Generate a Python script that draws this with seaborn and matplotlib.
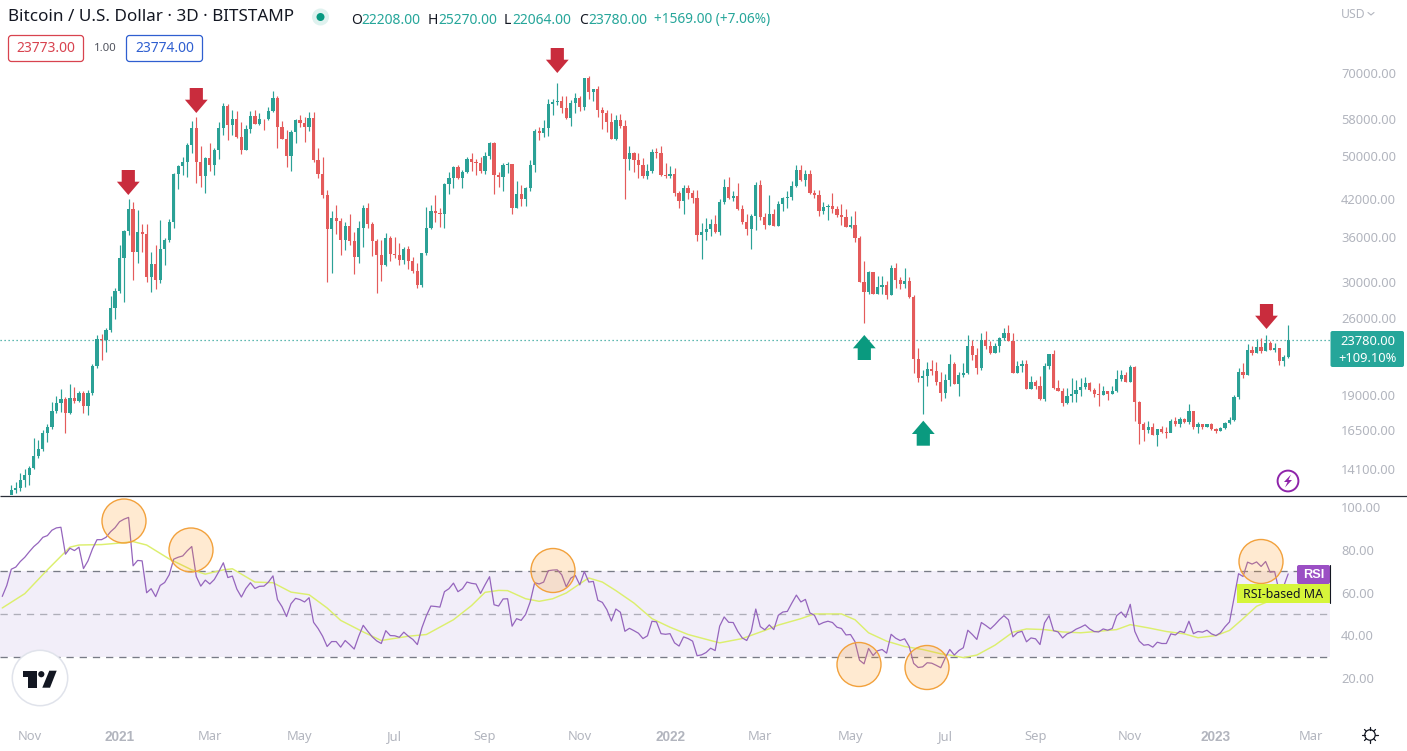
import numpy as np
import pandas as pd
import matplotlib
matplotlib.use("Agg")
import matplotlib.pyplot as plt
from matplotlib.patches import Circle, Polygon, Rectangle, FancyBboxPatch
from matplotlib.ticker import NullLocator
import seaborn as sns

FIRST_OPEN = 12670
close = [12930,13030,13460,13740,14130,14830,15260,16300,16690,17810,18400,18700,17670,18770,18550,19150,18170,19150,21370,23830,
23740,24720,27020,28950,33080,36910,40350,33910,36770,36480,30630,32300,30270,34320,35590,38290,46500,48000,48820,52300,
56030,48820,46120,49600,48220,51250,56030,61240,56700,58100,54000,51250,55800,58800,56950,58100,58000,60010,63260,56250,
53580,50000,55130,57870,57180,56250,58330,49210,46500,42700,37210,38900,38440,35590,37670,35450,33210,37370,40510,37980,
35450,33480,32160,35870,33630,33480,32820,34320,32690,31400,29660,33770,37370,40030,39710,39550,44660,45740,47830,45740,
46880,49410,48820,48620,47070,50040,52720,46310,45930,48220,48420,40510,42880,42020,43930,48220,55350,54910,56030,61750,
62240,62500,60750,58330,62000,63260,61000,68590,64820,65600,60260,59540,57410,53580,57870,56480,49410,50620,49210,48220,
46120,47070,50840,50620,46310,46120,46500,43060,41680,43930,43060,42190,36320,36770,37210,37980,36770,41520,44110,42190,
42530,40350,38290,37210,39230,44480,39070,37820,39550,37670,41180,42190,42360,44290,47260,45380,46500,43060,42700,40030,
40680,40850,40350,39390,39070,37520,37820,35870,30030,28840,31270,28600,29420,29660,28490,31770,30270,29790,30150,28250,
21980,20350,20510,21100,20940,20030,19150,20190,21540,19870,20600,20770,23180,22350,21190,23740,23180,22530,23180,23930,
24420,23640,20770,21370,21540,19470,20030,19710,18700,21370,22440,19550,19310,18400,18940,19080,19390,19630,19950,19390,
19080,19000,19310,19080,19310,20270,20600,20030,21280,18470,16900,16490,16690,16160,16550,16360,16300,17100,16900,17240,
17030,17810,16690,16900,16690,16900,16550,16430,16620,16970,17170,18840,20850,20600,22800,22530,23090,22710,23460,22800,
22980,21800,22170,23780]

high = [13190,13350,13850,14080,14250,15960,15830,16490,16900,18470,18940,19470,18840,19870,19630,19310,19310,19390,21540,24220,
24320,24920,28350,29300,34870,37060,42020,41520,40190,37980,37980,33910,34870,38600,35870,38750,46690,48220,49800,52720,
57640,58560,52060,49800,52720,51670,57410,61990,61750,60260,60010,57410,56700,60010,60260,59540,58100,61000,65080,63770,
57640,55570,55570,58100,59060,58560,59770,59770,51670,49800,43580,40030,41020,38900,38290,39550,36770,38440,41020,41350,
38290,35730,35590,36620,36180,36030,35170,34600,34740,33210,32430,33770,40680,41020,42700,40510,44850,46880,48000,48220,
47260,49800,50620,49410,49800,50840,52940,52940,46880,48620,48820,48420,45200,44480,44110,49210,55800,56250,57870,63000,
63000,67360,63770,63770,62750,64560,63770,68040,69150,65600,66420,61000,60260,59540,59060,59300,57870,52060,50840,50620,
49600,48420,51450,51670,52060,48620,48000,47640,43410,44480,44480,43580,43580,38140,38900,38750,39390,42020,45560,45930,
43410,44850,41020,39550,39550,45020,45380,39710,42700,40350,41680,42360,43410,45200,48220,48220,47260,47260,43580,43580,
41520,41180,43060,40850,41180,40350,39230,40030,36180,32690,31400,31270,30760,30760,30150,32160,32430,30630,31770,30630,
28490,22980,21020,21720,21890,21720,20850,20680,22440,21720,20850,21630,24220,23740,22980,24420,24620,23640,23460,24030,
24920,25240,24420,21800,21890,21890,20510,20190,20510,21630,22440,22800,20190,19550,19550,20350,20190,20350,20430,20030,
19550,19950,19710,19310,19710,21020,21020,20850,21450,21370,18550,17030,17100,16970,16550,16760,16690,17240,17380,17380,
17310,18330,17810,17030,16900,16900,16970,16620,16690,17030,17380,19000,21190,21630,23370,23180,23830,23930,24220,23640,
23460,22980,22350,25270]

low = [12420,12770,12880,13090,13190,14080,14720,15140,15700,16550,17670,17740,16300,17600,18400,18470,17670,17530,19000,21190,
21890,22620,24520,25840,28720,27690,36320,30270,32430,33910,30030,28840,29190,29910,32160,35300,37370,43750,46310,45930,
50620,44850,44110,43060,47070,46310,49410,54470,53370,54470,53790,50420,51250,54910,56950,56700,55570,57870,59770,51670,
53580,47830,47070,52720,56250,52940,55350,48820,45740,42190,30030,31140,36480,33480,34180,34870,31010,32430,34600,37370,
33350,28720,30150,32000,32690,33080,32160,32300,31650,31140,29300,29420,33480,37210,38290,37520,37370,42880,43930,45560,
43930,46690,47070,46310,46690,46500,49410,42880,44110,43410,46690,39550,40510,40850,40850,43410,46880,53370,54000,54240,
59060,61500,59540,58100,56480,59540,60010,60260,63000,62500,58560,55800,55130,53580,53370,56030,42020,47260,46880,45740,
45740,45560,46690,49600,46120,45740,45740,42530,40510,39550,42020,41350,35450,32950,35590,36180,36620,36320,41180,42020,
41680,40190,37980,36320,34320,37060,38600,37210,37820,37670,37670,40030,40510,41850,44110,45200,44290,42880,42190,39230,
39550,38600,39710,39070,37820,37520,37370,35300,30030,25440,28600,28600,28600,28600,28020,28490,29300,29190,29300,28140,
20770,20030,17600,19710,20600,19790,18550,18770,19710,19870,18940,20430,20680,21890,20680,21020,22890,22440,22530,22620,
23740,23640,20770,20770,20850,19470,19470,19470,18620,18550,21100,19470,19310,18170,18330,18470,18470,18940,19470,19310,
18840,18170,19000,18620,19080,19230,20110,20030,20030,17100,15580,15770,16300,16160,15450,16300,15960,16360,16760,16690,
16970,16900,16550,16300,16550,16690,16490,16300,16430,16550,16900,17100,18700,20350,20600,22350,22530,22530,22710,22800,
22620,21450,21370,22064]

# RSI values: the first two belong to bars left of the first visible candle
rsi = [58.2,63.3,70.9,71.9,74.5,76.5,79.1,81.5,83.3,85.8,86.6,89.1,90.2,90.5,77.9,80.7,79.6,81.2,71.2,74.8,
80.4,84.7,84.7,85.8,88.4,90.3,93.1,94.3,95.1,72.5,75.0,74.8,59.9,61.8,58.1,63.3,64.7,68.3,75.6,76.5,
77.1,79.5,81.5,67.5,63.0,65.8,64.0,66.1,69.8,73.9,67.0,67.7,61.6,57.9,61.9,64.6,61.9,62.9,63.0,64.9,
67.8,56.7,53.4,48.8,54.8,57.3,56.7,55.6,57.6,46.1,43.2,39.6,34.8,37.1,37.1,34.5,37.6,35.7,33.6,39.6,
44.7,41.9,39.3,37.4,36.2,42.2,39.9,39.8,39.1,41.5,39.6,38.1,35.7,43.5,49.2,53.7,53.5,53.2,60.4,61.8,
64.4,60.4,61.8,64.9,64.3,64.0,59.6,63.6,67.4,54.3,53.7,57.0,57.1,44.3,47.8,47.0,49.8,55.6,64.6,64.0,
64.9,70.2,70.5,70.6,68.3,62.7,66.7,68.0,63.6,69.8,64.9,65.2,56.4,55.4,52.0,46.7,52.3,50.8,41.9,43.3,
42.2,41.0,38.5,39.8,46.6,46.3,40.8,40.5,40.8,36.5,35.0,39.3,38.5,37.3,30.5,30.9,32.0,34.0,32.9,44.3,
48.6,46.1,46.0,41.9,38.8,37.6,41.9,52.3,44.1,42.6,44.9,42.7,49.4,50.9,51.2,55.1,58.8,55.6,56.8,50.5,
49.4,45.0,46.0,46.6,46.0,43.8,43.2,40.2,40.4,37.0,28.4,26.7,33.9,30.6,32.8,33.4,31.7,40.5,38.7,37.6,
38.4,34.8,26.9,25.0,25.3,27.2,27.0,26.0,24.9,29.5,33.4,30.8,32.9,34.2,42.4,40.4,38.1,46.0,44.6,43.0,
45.0,47.3,49.2,47.3,39.3,41.3,41.9,37.0,38.8,38.4,35.7,45.8,49.2,42.2,41.6,38.8,40.7,41.5,42.9,43.8,
44.9,43.0,41.8,41.6,43.0,42.4,43.2,49.2,50.9,48.4,54.5,41.9,37.3,35.4,35.7,34.5,36.8,36.2,36.2,40.7,
40.2,41.9,41.3,46.6,40.8,41.8,41.5,42.4,40.7,39.9,41.2,44.0,46.3,57.4,68.8,67.5,74.2,73.3,74.3,72.2,
74.5,69.5,69.8,60.5,62.9,68.7]

# RSI-based MA, read at selected bars (bar number counted along rsi above)
ma_bar = [0,5,10,15,17,22,27,29,32,37,42,45,49,51,56,60,64,68,72,75,80,84,90,94,100,104,107,110,112,116,119,122,125,129,130,133,136,
140,144,148,152,157,159,164,169,172,177,180,183,186,189,192,196,200,204,208,210,213,216,220,224,227,231,235,239,243,247,250,254,
258,262,265,269,272,275,278,281,285]
ma_val = [52.8,59.5,70.6,81.2,82.2,82.4,83.3,83.8,82.2,75.7,70.6,68.6,70.6,71.1,64.9,64.6,60.2,59.0,52.8,47.0,41.6,37.6,39.6,40.4,47.3,53.9,60.1,61.0,60.9,57.1,55.9,57.1,59.8,65.5,66.8,64.9,60.9,
55.1,47.8,43.8,40.4,37.6,36.5,38.5,42.3,44.8,47.8,50.0,50.0,50.0,47.3,41.2,37.3,34.8,33.4,31.4,30.8,29.6,30.8,35.4,41.5,43.0,42.7,41.6,41.2,41.9,42.7,45.0,43.5,
41.8,40.7,38.9,39.9,42.3,47.8,53.6,56.2,59.6]

price_ticks = [70000,58000,50000,42000,36000,30000,26000,19000,16500,14100]
rsi_ticks = [100,80,60,40,20]
month_labels = ["Nov","2021","Mar","May","Jul","Sep","Nov","2022","Mar","May","Jul","Sep","Nov","2023","Mar"]
month_bars = [6,26,46,66,87,107,128,148,168,188,209,229,250,269,290]

FONT = "Noto Sans"
BOLD = "Liberation Sans"
GREEN, RED = "#2ba196", "#e45b5b"
TICKC = "#b2b5be"
sns.set_theme(style="white")
plt.rcParams["font.family"] = [FONT, "DejaVu Sans"]

W, H = 1407, 751
fig = plt.figure(figsize=(W/100, H/100), dpi=100, facecolor="white")
AX_R = 1330
ax = fig.add_axes([0, 1-495/H, AX_R/W, 495/H])
ax2 = fig.add_axes([0, 1-722/H, AX_R/W, (722-496)/H])

dates = pd.date_range("2020-10-14", periods=len(rsi), freq="3D")
cdates = dates[2:]
c = np.array(close, float)
o = np.r_[FIRST_OPEN, c[:-1]]
h, l = np.array(high, float), np.array(low, float)
up = c >= o
cols = np.where(up, GREEN, RED)

ax.vlines(cdates, l, h, colors=cols, linewidth=0.85, zorder=2)
body_bottom = np.minimum(o, c)
body_h = np.maximum(np.abs(c-o), body_bottom*0.004)
ax.bar(cdates, body_h, bottom=body_bottom, width=2.15, color=cols, linewidth=0, zorder=3)
ax.set_yscale("log")
# price axis spans from y px 0 to 495
ax.set_ylim(12680, 94090)
x0 = dates[0] - pd.Timedelta(days=1.5)
x1 = dates[0] + pd.Timedelta(days=(AX_R-0)/1.504-1.5)
ax.set_xlim(x0, x1)
ax.axhline(close[-1], color=GREEN, lw=0.9, dashes=(1, 2.2), zorder=1)
ax.set_yticks(price_ticks)
ax.set_yticklabels([f"{t:.2f}" for t in price_ticks])
ax.yaxis.set_minor_locator(NullLocator())
ax.set_xticks([])

# RSI panel
ax2.axhspan(30, 70, color="#f2eef9", lw=0, zorder=0)
for lv, al in [(70, 1), (50, .55), (30, 1)]:
    ax2.axhline(lv, color="#787b86", lw=0.95, dashes=(5.5, 4.5), alpha=al, zorder=1)
df_rsi = pd.DataFrame({"date": dates, "rsi": rsi})
df_ma = pd.DataFrame({"date": dates[ma_bar], "ma": ma_val})
sns.lineplot(data=df_ma, x="date", y="ma", color="#dcef6e", lw=1.05, ax=ax2, estimator=None, zorder=2)
sns.lineplot(data=df_rsi, x="date", y="rsi", color="#9565bd", lw=0.9, ax=ax2, estimator=None, zorder=3)
ax2.set_xlim(x0, x1)
ax2.set_ylim(-0.47, 105.1)
ax2.set_xlabel(""); ax2.set_ylabel("")
ax2.set_yticks(rsi_ticks)
ax2.set_yticklabels([f"{t:.2f}" for t in rsi_ticks])
ax2.set_xticks(dates[0] + pd.to_timedelta(np.array(month_bars)*3, unit="D"))
ax2.set_xticklabels(month_labels)

for a in (ax, ax2):
    a.set_facecolor("none")
    for s in a.spines.values():
        s.set_visible(False)
    a.yaxis.tick_right()
    a.tick_params(axis="y", length=0, pad=7.9, labelsize=9.3, labelcolor=TICKC)
    a.tick_params(axis="x", length=0, pad=6, labelsize=9.3, labelcolor=TICKC)
    for t in a.get_yticklabels():
        t.set_ha("left")
for t, s in zip(ax2.get_xticklabels(), month_labels):
    if s.startswith("20"):
        t.set_fontfamily(BOLD)
        t.set_fontweight("bold")
        t.set_fontsize(9.8)

# overlay in pixel units for the chart furniture
ov = fig.add_axes([0, 0, 1, 1], zorder=5)
ov.set_xlim(0, W); ov.set_ylim(H, 0)
ov.axis("off")
ov.patch.set_alpha(0)

ov.plot([0, W], [495.5, 495.5], color="#2a2e39", lw=0.9, solid_capstyle="butt")

def arrow(xc, top, down, color):
    sw, hw, total, shaft = 6.6, 11.4, 25, 11.7
    if down:
        pts = [(-sw,0),(sw,0),(sw,shaft),(hw,shaft),(0,total),(-hw,shaft),(-sw,shaft)]
    else:
        pts = [(-sw,total),(sw,total),(sw,total-shaft),(hw,total-shaft),(0,0),(-hw,total-shaft),(-sw,total-shaft)]
    ov.add_patch(Polygon([(xc+p, top+q) for p, q in pts], closed=True, color=color, lw=0))

for xc, top in [(128.3,170),(196.3,88),(557.3,48),(1266.5,304)]:
    arrow(xc, top, True, "#c92c3d")
for xc, top in [(864.3,335),(923.3,420.7)]:
    arrow(xc, top, False, "#0a9a7f")

for xc, yc in [(124,521),(191,550),(553,570.5),(859,664.5),(927,667.5),(1261,561.5)]:
    ov.add_patch(Circle((xc, yc), 22, facecolor=(1, 0.6, 0.1, 0.2), edgecolor="#f2a13c", lw=1.0))

# labels on the right edge
ov.add_patch(FancyBboxPatch((1297,565), 33, 19, boxstyle="round,pad=0,rounding_size=2", facecolor="#9b4fc4", lw=0))
ov.text(1313.5, 574.5, "RSI", color="white", fontsize=9.2, ha="center", va="center", fontweight="bold", family=BOLD)
ov.add_patch(Rectangle((1237,584), 92.5, 19, facecolor="#d6f53a", lw=0))
ov.text(1283, 594, "RSI-based MA", color="#131722", fontsize=8.9, ha="center", va="center")
ov.plot([1329.7,1329.7],[565,603], color="#131722", lw=0.8)
ov.add_patch(FancyBboxPatch((1330.5,331), 73.5, 36, boxstyle="round,pad=0,rounding_size=2", facecolor="#26a69a", lw=0))
ov.text(1367.5, 341.5, "23780.00", color="white", fontsize=9.3, ha="center", va="center")
ov.text(1367.5, 358, "+109.10%", color="white", fontsize=9.3, ha="center", va="center")
ov.text(1341, 14, "USD", color=TICKC, fontsize=8.8, ha="left", va="center")
ov.plot([1368,1371,1374],[12.5,15,12.5], color=TICKC, lw=0.8)

# header
ov.text(8, 17, "Bitcoin / U.S. Dollar · 3D · BITSTAMP", color="#131722", fontsize=12.3, ha="left", va="center")
ov.add_patch(Circle((320.5,17), 8.5, facecolor="#dff2ef", lw=0))
ov.add_patch(Circle((320.5,17), 4, facecolor="#089981", lw=0))
for xl, letter, xv, val in [(351,"O",361,"22208.00"),(428,"H",438,"25270.00"),(504,"L",512,"22064.00"),(579,"C",588,"23780.00")]:
    ov.text(xl, 20, letter, color="#131722", fontsize=10, ha="left", va="center")
    ov.text(xv, 20, val, color="#26a69a", fontsize=10, ha="left", va="center")
ov.text(654, 20, "+1569.00 (+7.06%)", color="#26a69a", fontsize=9.85, ha="left", va="center")

ov.add_patch(FancyBboxPatch((8.5,35.5), 75, 26, boxstyle="round,pad=0,rounding_size=3", facecolor="white", edgecolor="#d8434f", lw=0.9))
ov.text(46, 48.5, "23773.00", color="#d8434f", fontsize=10, ha="center", va="center")
ov.text(105, 48.5, "1.00", color="#50535e", fontsize=8.2, ha="center", va="center")
ov.add_patch(FancyBboxPatch((126.5,35.5), 76, 26, boxstyle="round,pad=0,rounding_size=3", facecolor="white", edgecolor="#2f5fd0", lw=0.9))
ov.text(164.5, 48.5, "23774.00", color="#2f5fd0", fontsize=10, ha="center", va="center")

# logo
ov.add_patch(Circle((40,678), 27.7, facecolor="white", edgecolor="#e0e3eb", lw=1.1))
ov.add_patch(Polygon([(22.7,670.7),(37.3,670.7),(37.3,687.7),(28.3,687.7),(28.3,677.3),(22.7,677.3)], color="#131722", lw=0))
ov.add_patch(Circle((41.3,674.2), 3.1, color="#131722", lw=0))
ov.add_patch(Polygon([(49.3,670.7),(56.7,670.7),(50,687.7),(42.3,687.7)], color="#131722", lw=0))

# lightning badge
ov.add_patch(Circle((1288,481), 10.4, facecolor="white", edgecolor="#8e24aa", lw=1.4))
ov.add_patch(Polygon([(1291,474.5),(1284,482),(1287.5,482),(1285,487.5),(1292,480),(1288.5,480)], color="#8e24aa", lw=0))

# sun icon
ov.add_patch(Circle((1370,735), 5.2, facecolor="white", edgecolor="#131722", lw=0.9))
for ang in np.arange(0, 360, 45):
    r = np.deg2rad(ang)
    ov.plot([1370+5.2*np.cos(r), 1370+7.8*np.cos(r)], [735+5.2*np.sin(r), 735+7.8*np.sin(r)], color="#131722", lw=0.9)

fig.savefig("out.png", dpi=100)
